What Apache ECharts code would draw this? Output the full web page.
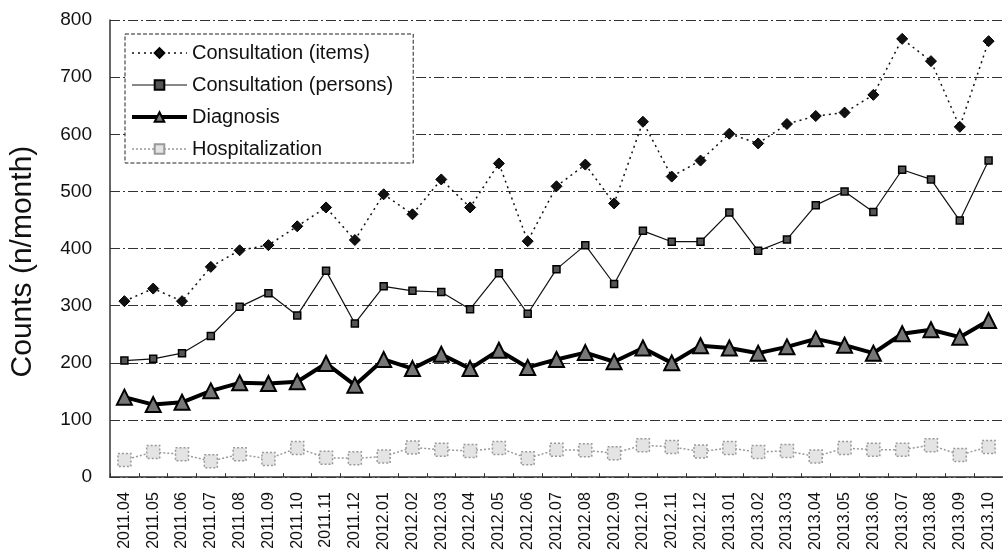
<!DOCTYPE html>
<html>
<head>
<meta charset="utf-8">
<script src="https://cdn.jsdelivr.net/npm/echarts@6/dist/echarts.min.js"></script>
<style>html,body{margin:0;padding:0;background:#fff;}#c{width:1003px;height:553px;}</style>
</head>
<body>
<div id="c"></div>
<script>
const categories = ['2011.04','2011.05','2011.06','2011.07','2011.08','2011.09','2011.10','2011.11','2011.12',
  '2012.01','2012.02','2012.03','2012.04','2012.05','2012.06','2012.07','2012.08','2012.09','2012.10','2012.11','2012.12',
  '2013.01','2013.02','2013.03','2013.04','2013.05','2013.06','2013.07','2013.08','2013.09','2013.10'];
const consultItems = [308,330,308,368,397,406,439,472,415,495,460,521,472,549,413,509,547,479,622,526,554,601,584,618,632,638,669,767,728,613,763];
const consultPersons = [204,207,217,247,298,322,283,361,269,334,326,324,294,357,286,364,406,338,431,412,412,463,396,416,476,500,464,538,521,449,554];
const diagnosis = [140,127,131,151,165,164,167,199,161,206,190,215,190,222,192,206,218,202,226,200,230,226,217,228,242,231,217,251,258,245,274];
const hospitalization = [30,44,40,28,40,32,51,34,33,36,52,48,46,51,33,48,47,42,56,53,45,51,44,46,36,51,48,48,56,39,53];
const yTicks = [0,100,200,300,400,500,600,700,800];

const FONT = "'Liberation Sans', Arial, sans-serif";
const chart = echarts.init(document.getElementById('c'), null, {renderer: 'canvas'});
chart.setOption({
  animation: false,
  backgroundColor: '#fff',
  grid: {left: 109, top: 20, width: 905, bottom: 74},
  legend: {
    orient: 'vertical', left: 125, top: 34,
    padding: [8, 20, 3, 5],
    backgroundColor: '#fff',
    borderColor: '#222', borderWidth: 1, borderType: [4, 2],
    itemWidth: 55, itemHeight: 12, itemGap: 10,
    textStyle: {fontFamily: FONT, fontSize: 20, color: '#111', lineHeight: 22},
    data: [
      {name: 'Consultation (items)', lineStyle: {width: 1.5}},
      {name: 'Consultation (persons)', lineStyle: {width: 1.2}},
      {name: 'Diagnosis', lineStyle: {width: 4}},
      {name: 'Hospitalization', lineStyle: {width: 1.5}}
    ]
  },
  xAxis: {
    type: 'category', data: categories, boundaryGap: true,
    axisLine: {lineStyle: {color: '#333', width: 1.5}},
    axisTick: {show: true, inside: true, length: 4, lineStyle: {color: '#333'}},
    axisLabel: {rotate: 90, fontFamily: FONT, fontSize: 16, color: '#111', margin: 15, interval: 0},
    splitLine: {show: false}
  },
  yAxis: {
    type: 'value', min: yTicks[0], max: yTicks[yTicks.length - 1], interval: 100,
    name: 'Counts (n/month)', nameLocation: 'middle', nameGap: 72, nameRotate: 90,
    nameTextStyle: {fontFamily: FONT, fontSize: 30, color: '#111', padding: [0, 26, 0, 0]},
    axisLine: {show: true, lineStyle: {color: '#333', width: 1.5}},
    axisTick: {show: false},
    axisLabel: {fontFamily: FONT, fontSize: 19, color: '#111', margin: 18},
    splitLine: {show: true, lineStyle: {color: '#333', width: 1, type: [10, 3, 2, 3]}}
  },
  series: [
    {
      name: 'Consultation (items)', type: 'line', data: consultItems,
      symbol: 'diamond', symbolSize: 11, z: 4,
      lineStyle: {color: '#111', width: 1.5, type: [2, 4]},
      itemStyle: {color: '#111', borderColor: '#000', borderWidth: 1}
    },
    {
      name: 'Consultation (persons)', type: 'line', data: consultPersons,
      symbol: 'rect', symbolSize: 7, z: 3,
      lineStyle: {color: '#111', width: 1.2, type: 'solid'},
      itemStyle: {color: '#555', borderColor: '#000', borderWidth: 1.5}
    },
    {
      name: 'Diagnosis', type: 'line', data: diagnosis,
      symbol: 'triangle', symbolSize: 15, z: 2,
      lineStyle: {color: '#000', width: 4, type: 'solid'},
      itemStyle: {color: '#777', borderColor: '#000', borderWidth: 2}
    },
    {
      name: 'Hospitalization', type: 'line', data: hospitalization,
      symbol: 'rect', symbolSize: 13, z: 1,
      lineStyle: {color: '#999', width: 1.5, type: [2, 2]},
      itemStyle: {color: '#e4e4e4', borderColor: '#999', borderWidth: 1.5, borderType: [2, 2]}
    }
  ]
});
</script>
</body>
</html>
